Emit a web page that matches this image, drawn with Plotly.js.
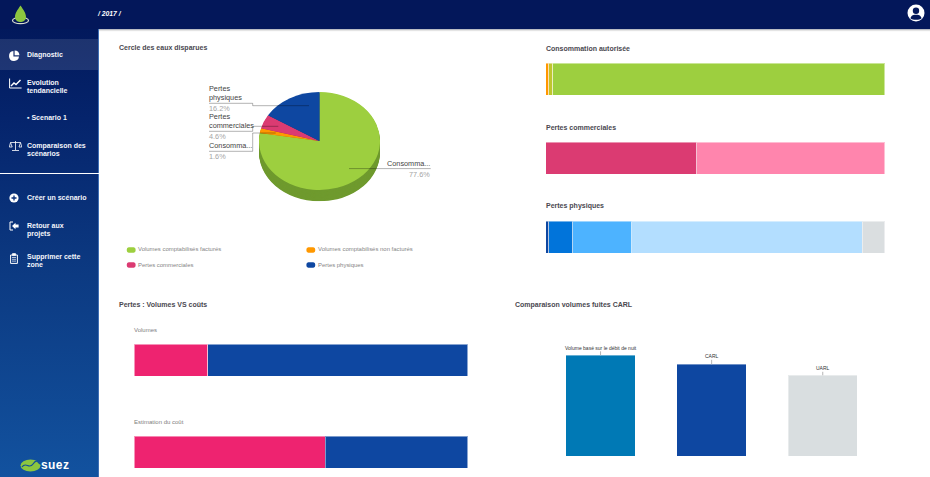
<!DOCTYPE html>
<html><head><meta charset="utf-8">
<script src="https://cdn.plot.ly/plotly-3.0.1.min.js"></script>
<style>
html,body{margin:0;padding:0;background:#fff;width:930px;height:477px;overflow:hidden;font-family:"Liberation Sans",Arial,sans-serif}
#top{position:absolute;left:0;top:0;width:930px;height:29px;background:#03175a;border-bottom:1.5px solid #b9bcc4;box-shadow:0 1px 1px #e4e4e4}
#side{position:absolute;left:0;top:29px;width:98px;height:448px;background:linear-gradient(#02195c 0%,#05246c 20%,#0c3a82 55%,#12529f 100%);border-right:1px solid #3f6fb4}
#active{position:absolute;left:0;top:39px;width:98px;height:31px;background:rgba(255,255,255,.11)}
#rule{position:absolute;left:0;top:173px;width:99px;height:1px;background:#fff}
.m{position:absolute;left:27px;color:#f4f6fb;font-weight:bold;font-size:7px;line-height:8px;white-space:nowrap}
.i{position:absolute;left:8px}
#pie{position:absolute;left:259px;top:91.5px;width:121px;height:135px;transform:scaleY(.81);transform-origin:0 0}
#chart{position:absolute;left:0;top:0;width:930px;height:477px}
</style></head><body>
<div id="top"></div><div id="side"></div><div id="active"></div><div id="rule"></div>
<svg class="i" style="left:11px;top:4px" width="22" height="22" viewBox="0 0 22 22"><ellipse cx="9.5" cy="16.5" rx="8" ry="3.2" fill="none" stroke="#d8dcd0" stroke-width="1.2"/><path d="M9.5 1.5 C12.5 6 15 9 15 13 C15 17 11.5 18 9.5 18 C7.5 18 4 17 4 13 C4 9 6.5 6 9.5 1.5Z" fill="#8cc63f"/></svg>
<div style="position:absolute;left:98px;top:9.5px;color:#fff;font-size:6.8px;font-weight:bold;font-style:italic;white-space:nowrap">/ 2017 /</div>
<svg style="position:absolute;left:907px;top:4px" width="18" height="18" viewBox="0 0 18 18"><circle cx="9" cy="9" r="8.5" fill="#fff"/><circle cx="9" cy="6.8" r="3.2" fill="#03175a"/><path d="M3.5 14.5 C4 11 7 10.8 9 10.8 C11 10.8 14 11 14.5 14.5 C12.5 16.2 5.5 16.2 3.5 14.5Z" fill="#03175a"/></svg>

<svg class="i" style="top:50px" width="12" height="12" viewBox="0 0 12 12"><path d="M5.4 1 A5 5 0 1 0 11 6.6 L5.4 6.6Z" fill="#fff"/><path d="M6.6 .4 A5 5 0 0 1 11.4 5.2 L6.6 5.2Z" fill="#fff"/></svg>
<div class="m" style="top:51px">Diagnostic</div>
<svg class="i" style="left:9px;top:78px" width="13" height="11" viewBox="0 0 13 11"><path d="M.6 .5V10H12.6" fill="none" stroke="#fff" stroke-width="1"/><path d="M2 8L5 5L7 6.5L11.5 2" fill="none" stroke="#fff" stroke-width="1.4"/></svg>
<div class="m" style="top:78.5px">Evolution<br>tendancielle</div>
<div class="m" style="top:114px">▪ Scenario 1</div>
<svg class="i" style="left:9px;top:140px" width="13" height="12" viewBox="0 0 13 12"><path d="M6.5 1V10M3 10.5H10M1.5 2.5H11.5M1.5 2.5L.3 7H3.2ZM11.5 2.5L10 7H12.8Z" fill="none" stroke="#fff" stroke-width=".8"/></svg>
<div class="m" style="top:142px">Comparaison des<br>scénarios</div>
<svg class="i" style="left:9px;top:193px" width="10" height="10" viewBox="0 0 10 10"><circle cx="5" cy="5" r="4.6" fill="#fff"/><path d="M5 2.5V7.5M2.5 5H7.5" stroke="#0a2f78" stroke-width="1.3"/></svg>
<div class="m" style="top:194px">Créer un scénario</div>
<svg class="i" style="left:9px;top:221px" width="10" height="10" viewBox="0 0 10 10"><path d="M4 1H1V9H4" fill="none" stroke="#fff" stroke-width="1"/><path d="M3 5L6.5 1.8V3.6H9.6V6.4H6.5V8.2Z" fill="#fff"/></svg>
<div class="m" style="top:221.5px">Retour aux<br>projets</div>
<svg class="i" style="left:9.5px;top:252.5px" width="8" height="11" viewBox="0 0 8 11"><path d="M.6 2H7.4V10.4H.6Z" fill="none" stroke="#fff" stroke-width="1"/><path d="M2.5 .6H5.5V2.6H2.5ZM2 4.5H6M2 6.3H6M2 8.1H6" fill="#fff" stroke="#fff" stroke-width=".7"/></svg>
<div class="m" style="top:253px">Supprimer cette<br>zone</div>
<svg style="position:absolute;left:20px;top:459px" width="21" height="13" viewBox="0 0 21 13"><ellipse cx="10.5" cy="6.5" rx="10" ry="6" fill="#8cc63f"/><path d="M2 8C6 2 9 11 13 5S18 4 20 5" fill="none" stroke="#0f4c99" stroke-width="1.2"/></svg>
<div style="position:absolute;left:41px;top:458px;color:#fff;font:bold 12px 'Liberation Sans',Arial,sans-serif;letter-spacing:.4px">suez</div>

<div id="pie"></div>
<div id="chart"></div>
<script>
const pieLabels = ['Volumes comptabilisés facturés','Volumes comptabilisés non facturés','Pertes commerciales','Pertes physiques'];
const pieValues = [77.6,1.6,4.6,16.2];
const pieColors = ['#9dcf3f','#ff9800','#db3b72','#0e47a1'];
const pieSide   = ['#6f9a2e','#b06a00','#9a2950','#0a3270'];
const authorisedValues  = [1.0,1.2,97.8];
const authorisedColors  = ['#ff9800','#bfc62e','#9dcf3f'];
const commercialValues  = [44.6,55.4];
const commercialColors  = ['#db3b72','#ff85ad'];
const physicalValues    = [1.03,7.07,17.38,67.89,6.63];
const physicalColors    = ['#0e47a1','#0174da','#4db3ff','#b3deff','#dadee0'];
const lossNames  = ['Pertes commerciales','Pertes physiques'];
const lossColors = ['#ee2370','#0e47a1'];
const volumeValues = [22,78];
const costValues   = [57.3,42.7];
const carlLabels = ['Volume basé sur le débit de nuit','CARL','UARL'];
const carlValues = [100.7,91.7,80.7];
const carlColors = ['#0079b5','#0e47a1','#d9dee0'];

/* 3D pie: stacked copies of the same data give the extruded side */
const depth = 14, H = 135;
const pieTraces = [];
for (let k = depth; k >= 0; k--) {
  pieTraces.push({type:'pie',values:pieValues,labels:pieLabels,sort:false,direction:'clockwise',rotation:0,
    textinfo:'none',hoverinfo:'skip',showlegend:false,
    marker:{colors:k===0?pieColors:pieSide,line:{width:0}},
    domain:{x:[0,1],y:[(depth-k)/H,(H-k)/H]}});
}
Plotly.newPlot('pie',pieTraces,{width:121,height:H,margin:{l:0,r:0,t:0,b:0},paper_bgcolor:'rgba(0,0,0,0)',showlegend:false},{staticPlot:true,displayModeBar:false});

const W=930,Ht=477,FONT='"Liberation Sans",Arial,sans-serif';
const px=x=>x/W, py=y=>1-y/Ht;
const layout={width:W,height:Ht,margin:{l:0,r:0,t:0,b:0},paper_bgcolor:'rgba(0,0,0,0)',plot_bgcolor:'rgba(0,0,0,0)',
  barmode:'stack',bargap:0,showlegend:false,annotations:[],shapes:[],font:{family:FONT}};
const traces=[];
let axN=0;
function axes(x0,x1,y0,y1,xr,yr){
  axN++;const s=axN===1?'':axN;
  layout['xaxis'+s]={domain:[px(x0),px(x1)],range:xr,visible:false,fixedrange:true,anchor:'y'+s};
  layout['yaxis'+s]={domain:[py(y1),py(y0)],range:yr,visible:false,fixedrange:true,anchor:'x'+s};
  return ['x'+s,'y'+s];
}
function stacked(x0,x1,y0,y1,vals,cols,names){
  const [xa,ya]=axes(x0,x1,y0,y1,[0,100],[-.5,.5]);
  vals.forEach((v,i)=>traces.push({type:'bar',orientation:'h',x:[v],y:[0],xaxis:xa,yaxis:ya,name:names?names[i]:'',
    marker:{color:cols[i],line:{color:'rgba(255,255,255,.45)',width:1}},hoverinfo:'skip'}));
}
function txt(t,x,y,size,color,anchor,bold){
  const dx=anchor==='right'?.5:-1;
  layout.annotations.push({text:bold?'<b>'+t+'</b>':t,xref:'paper',yref:'paper',x:px(x+dx),y:py(y),xanchor:anchor||'left',yanchor:'middle',
    showarrow:false,borderpad:0,font:{size:size,color:color,family:FONT}});
}
function poly(pts,color){
  layout.shapes.push({type:'path',xref:'paper',yref:'paper',
    path:'M'+pts.map(p=>px(p[0])+','+py(p[1])).join('L'),line:{color:color||'rgba(0,0,0,.3)',width:1}});
}
function pill(x,y,color){
  const a=px(x),b=px(x+9),c=px(x+2),d=px(x+7),t=py(y-2.7),u=py(y+2.7),m=py(y);
  layout.shapes.push({type:'path',xref:'paper',yref:'paper',fillcolor:color,line:{width:0},
    path:`M${c},${t}L${d},${t}Q${b},${t} ${b},${m}Q${b},${u} ${d},${u}L${c},${u}Q${a},${u} ${a},${m}Q${a},${t} ${c},${t}Z`});
}

/* titles */
const TC='#4a4850',TS=7;
txt('Cercle des eaux disparues',119,48.5,TS,TC,'left',true);
txt('Consommation autorisée',545.5,48.5,TS,TC,'left',true);
txt('Pertes commerciales',545.5,127.5,TS,TC,'left',true);
txt('Pertes physiques',545.5,206.5,TS,TC,'left',true);
txt('Pertes : Volumes VS coûts',119,304.5,TS,TC,'left',true);
txt('Comparaison volumes fuites CARL',515,304.5,TS,TC,'left',true);

/* pie labels */
const L='#444',V='#a5a5a5',LS=7.3;
const pct=v=>v.toFixed(1)+'%';
txt('Pertes',209,88,LS,L);txt('physiques',209,97.7,LS,L);txt(pct(pieValues[3]),209,108.5,LS,V);
txt('Pertes',209,116,LS,L);txt('commerciales',209,125.7,LS,L);txt(pct(pieValues[2]),209,136,LS,V);
txt('Consomma...',209,145.7,LS,L);txt(pct(pieValues[1]),209,156.3,LS,V);
txt('Consomma...',430.7,163.3,LS,L,'right');txt(pct(pieValues[0]),430.7,174.3,LS,V,'right');
poly([[209,103.3],[252.7,103.3],[252.7,105.7],[309,105.7]]);
poly([[209,131.3],[252.7,131.3],[252.7,126.3],[278.3,126.3]]);
poly([[209,151.3],[252.7,151.3],[252.7,133],[275.7,133]]);
poly([[430.7,168.6],[349,168.6]]);

/* pie legend */
const LG='#858585',LGS=5.95;
[[126.7,250,0],[306.3,250,1],[126.7,265,2],[306.3,265,3]].forEach(p=>{
  pill(p[0],p[1],pieColors[p[2]]);
  txt(pieLabels[p[2]],p[0]+11.5,p[1]-.5,LGS,LG);
});

/* stacked bars */
stacked(545.5,884.8,63,95,authorisedValues,authorisedColors);
stacked(545.5,884.8,142,174,commercialValues,commercialColors);
stacked(545.5,884.8,221,253,physicalValues,physicalColors);
txt('Volumes',134.3,330,6,'#808080');
stacked(134.3,467.7,344.3,376.3,volumeValues,lossColors,lossNames);
txt('Estimation du coût',134.3,422,6,'#808080');
stacked(134.3,467.7,436,468,costValues,lossColors,lossNames);

/* CARL columns */
const [cx,cy]=axes(545,878.3,346,456,[-.5,2.5],[0,110]);
traces.push({type:'bar',x:[0,1,2],y:carlValues,width:.625,xaxis:cx,yaxis:cy,hoverinfo:'skip',
  marker:{color:carlColors,line:{color:'rgba(255,255,255,.4)',width:1}}});
[7.5,8,7].forEach((ay,i)=>layout.annotations.push({x:i,y:carlValues[i],xref:cx,yref:cy,text:carlLabels[i],showarrow:true,arrowhead:0,
  arrowwidth:1,arrowcolor:'#b5b5b5',ax:0,ay:-ay,axref:'pixel',ayref:'pixel',borderpad:0,font:{size:5,color:'#333',family:FONT}}));

Plotly.newPlot('chart',traces,layout,{staticPlot:true,displayModeBar:false});
</script>
</body></html>
